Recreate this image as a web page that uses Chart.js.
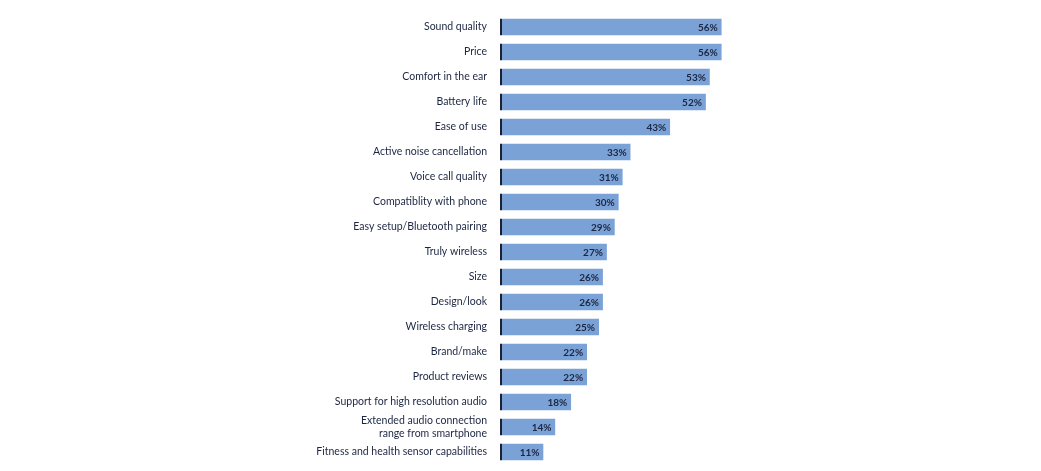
<!DOCTYPE html>
<html>
<head>
<meta charset="utf-8">
<script src="https://cdn.jsdelivr.net/npm/chart.js@4/dist/chart.umd.min.js"></script>
<style>
  html, body { margin: 0; padding: 0; background: #fff; }
  #wrap { width: 1041px; height: 471px; position: relative; }
</style>
</head>
<body>
<div id="wrap"><canvas id="feature_chart"></canvas></div>
<script>
const labels = [
  'Sound quality',
  'Price',
  'Comfort in the ear',
  'Battery life',
  'Ease of use',
  'Active noise cancellation',
  'Voice call quality',
  'Compatiblity with phone',
  'Easy setup/Bluetooth pairing',
  'Truly wireless',
  'Size',
  'Design/look',
  'Wireless charging',
  'Brand/make',
  'Product reviews',
  'Support for high resolution audio',
  ['Extended audio connection', 'range from smartphone'],
  'Fitness and health sensor capabilities'
];
const values = [56, 56, 53, 52, 43, 33, 31, 30, 29, 27, 26, 26, 25, 22, 22, 18, 14, 11];

const valueLabels = {
  id: 'valueLabels',
  afterDatasetsDraw(chart) {
    const ctx = chart.ctx;
    const meta = chart.getDatasetMeta(0);
    ctx.save();
    ctx.font = 'bold 10px Lato';
    ctx.fillStyle = '#1c2642';
    ctx.textAlign = 'right';
    ctx.textBaseline = 'middle';
    meta.data.forEach(function(bar, i) {
      ctx.fillText(values[i] + '%', bar.x - 4, bar.y + 1);
    });
    ctx.restore();
  }
};

function createChart() {
  const ctx = document.getElementById('feature_chart');
  const data = {
    labels: labels,
    datasets: [{
      data: values,
      backgroundColor: '#7ba2d6',
      borderColor: '#1c2233',
      borderWidth: { left: 2, top: 0, right: 0, bottom: 0 },
      borderSkipped: false,
      categoryPercentage: 1,
      barPercentage: 0.68
    }]
  };
  const option = {
    responsive: true,
    maintainAspectRatio: false,
    animation: false,
    layout: { padding: { top: 14.5, bottom: 6.5, left: 0, right: 145 } },
    plugins: {
      legend: { display: false },
      tooltip: { enabled: false }
    },
    indexAxis: 'y',
    scales: {
      x: { display: false, min: 0, max: 100 },
      y: {
        grid: { display: false, drawTicks: false },
        border: { display: false },
        ticks: {
          padding: 13,
          color: '#1c2642',
          font: { family: 'Lato', size: 10.5 },
          autoSkip: false
        },
        afterFit: function(scale) {
          scale.width = 500;
          scale.paddingTop = 0;
          scale.paddingBottom = 0;
        }
      }
    }
  };
  new Chart(ctx, { type: 'bar', data: data, options: option, plugins: [valueLabels] });
}
createChart();
</script>
</body>
</html>
